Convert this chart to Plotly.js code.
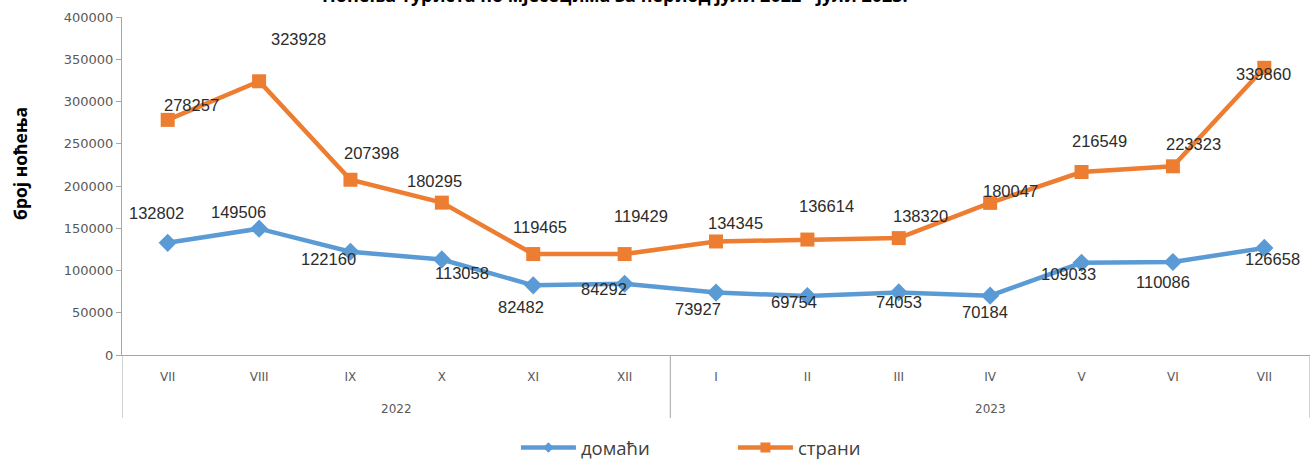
<!DOCTYPE html>
<html>
<head>
<meta charset="utf-8">
<script src="https://cdn.plot.ly/plotly-3.0.1.min.js"></script>
<style>html,body{margin:0;padding:0;background:#fff;}#chart{width:1312px;height:459px;}</style>
</head>
<body>
<div id="chart"></div>
<script>
const years = ["2022","2023"];
const yearCounts = [6, 7];
const months = ["VII","VIII","IX","X","XI","XII","I","II","III","IV","V","VI","VII"];
const domaci = [132802,149506,122160,113058,82482,84292,73927,69754,74053,70184,109033,110086,126658];
const strani = [278257,323928,207398,180295,119465,119429,134345,136614,138320,180047,216549,223323,339860];
const seriesNames = ["домаћи","страни"];
const titleText = "Ноћења туриста по мјесецима за период јули 2022 - јули 2023.";
const yTitle = "број ноћења";

// label offsets (px, right/down) relative to each point
const domaciOff = [[-11,-29],[-21,-16],[-22,8],[20,15],[-12,23],[-21,6],[-18,17],[-13,7],[0,11],[-5,17],[-13,12],[-10,21],[8,12]];
const straniOff = [[24,-14],[39,-41],[21,-26],[-7,-21],[7,-26],[16,-37],[19,-17],[19,-33],[22,-21],[20,-11],[18,-30],[21,-21],[-1,7]];

const BLUE = "#5B9BD5", ORANGE = "#ED7D31", AXIS = "#A6A6A6";
const idx = months.map((m, i) => i);

const traces = [
  {x: idx, y: domaci, name: seriesNames[0], type: "scatter", mode: "lines+markers", showlegend: false,
   line: {color: BLUE, width: 4.5}, marker: {symbol: "diamond", size: 14, color: BLUE}},
  {x: idx, y: strani, name: seriesNames[1], type: "scatter", mode: "lines+markers", showlegend: false,
   line: {color: ORANGE, width: 4.5}, marker: {symbol: "square", size: 14, color: ORANGE}},
  // legend entries (smaller legend symbols, as in the reference)
  {x: [null], y: [null], name: seriesNames[0], type: "scatter", mode: "lines+markers",
   line: {color: BLUE, width: 4.5}, marker: {symbol: "diamond", size: 8, color: BLUE}},
  {x: [null], y: [null], name: seriesNames[1], type: "scatter", mode: "lines+markers",
   line: {color: ORANGE, width: 4.5}, marker: {symbol: "square", size: 10, color: ORANGE}}
];

const LBL = {family: "Liberation Sans, Arial, sans-serif", size: 16.5, color: "#2b2b2b"};
const annotations = [];
function addLabels(vals, offs) {
  vals.forEach((v, i) => {
    annotations.push({x: i, y: v, xref: "x", yref: "y", text: String(v),
      showarrow: false, xshift: offs[i][0], yshift: -offs[i][1] + 1, font: LBL});
  });
}
addLabels(domaci, domaciOff);
addLabels(strani, straniOff);

// year group labels and dividers
const shapes = [];
let start = 0;
const divPos = [-0.5];
years.forEach((y, g) => {
  const end = start + yearCounts[g] - 1;
  annotations.push({x: (start + end) / 2, y: 0, xref: "x", yref: "paper", yshift: -54, yanchor: "middle",
    text: y, showarrow: false, font: {family: "DejaVu Sans, sans-serif", size: 12, color: "#595959"}});
  divPos.push(end + 0.5);
  start = end + 1;
});
divPos.forEach(p => shapes.push({type: "line", xref: "x", yref: "paper", x0: p, x1: p, y0: 0, y1: -63 / 338,
  line: {color: AXIS, width: 1}}));

annotations.push({xref: "paper", yref: "paper", x: 0.415, y: 1, yshift: 22, yanchor: "middle",
  text: "<b>" + titleText + "</b>", showarrow: false,
  font: {family: "Open Sans, DejaVu Sans, sans-serif", size: 18, color: "#000"}});
annotations.push({xref: "paper", yref: "paper", x: 0, y: 0.5, xshift: -102, yshift: 22, textangle: -90,
  xanchor: "center", yanchor: "middle", text: "<b>" + yTitle + "</b>", showarrow: false,
  font: {family: "Open Sans, DejaVu Sans, sans-serif", size: 17.5, color: "#000"}});

const layout = {
  width: 1312, height: 459,
  margin: {l: 122, r: 2, t: 17, b: 104, autoexpand: false},
  paper_bgcolor: "#fff", plot_bgcolor: "#fff",
  showlegend: true,
  legend: {orientation: "h", x: 0.3316, xanchor: "left", y: -0.275, yanchor: "middle",
    font: {family: "Open Sans, sans-serif", size: 18.5, color: "#404040"}, itemwidth: 55,
    entrywidth: 147, entrywidthmode: "pixels"},
  xaxis: {range: [-0.5, 12.5], tickvals: idx, ticktext: months, showline: true, linecolor: AXIS, linewidth: 1,
    showgrid: false, zeroline: false, ticks: "", ticklabelstandoff: 11,
    tickfont: {family: "DejaVu Sans, sans-serif", size: 12, color: "#595959"}},
  yaxis: {range: [0, 400000], dtick: 50000, tickformat: "d", showgrid: false, zeroline: false,
    showline: true, linecolor: AXIS, linewidth: 1, ticks: "outside", ticklen: 5, tickcolor: AXIS,
    tickfont: {family: "DejaVu Sans, sans-serif", size: 13, color: "#595959"}},
  shapes: shapes,
  annotations: annotations
};

Plotly.newPlot("chart", traces, layout, {displayModeBar: false, staticPlot: true});
</script>
</body>
</html>
